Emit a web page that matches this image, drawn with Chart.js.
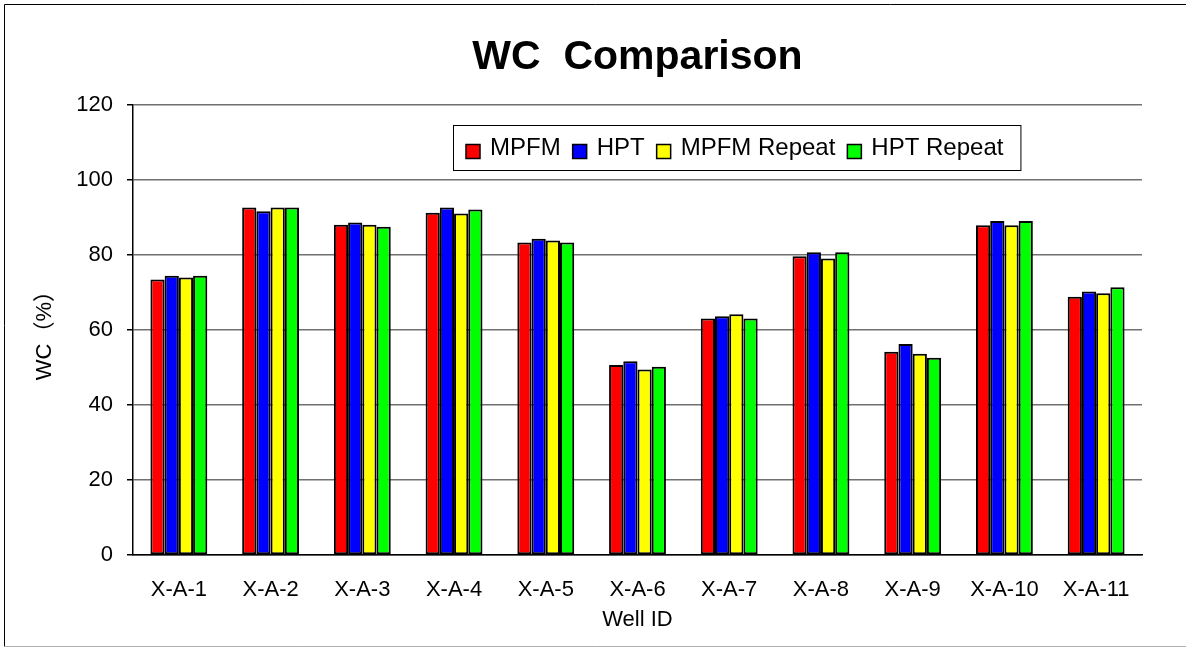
<!DOCTYPE html>
<html>
<head>
<meta charset="utf-8">
<script src="https://cdn.jsdelivr.net/npm/chart.js@4.4.1/dist/chart.umd.min.js"></script>
<style>
    html, body { margin: 0; padding: 0; background: #fff; }
    #grafica { display: block; }
</style>
</head>
<body>
<canvas id="grafica" width="1186" height="648"></canvas>
<script>
// Pozos y valores de WC (%)
const pozos = ['X-A-1', 'X-A-2', 'X-A-3', 'X-A-4', 'X-A-5', 'X-A-6', 'X-A-7', 'X-A-8', 'X-A-9', 'X-A-10', 'X-A-11'];
const mpfm = [73.5, 92.7, 88.1, 91.3, 83.4, 50.7, 63.1, 79.7, 54.2, 88.0, 68.9];
const hpt = [74.5, 91.7, 88.7, 92.7, 84.4, 51.7, 63.7, 80.8, 56.3, 89.1, 70.3];
const mpfmRepeat = [74.0, 92.7, 88.1, 91.1, 83.9, 49.5, 64.2, 79.1, 53.7, 88.0, 69.8];
const hptRepeat = [74.5, 92.7, 87.6, 92.2, 83.4, 50.2, 63.1, 80.8, 52.6, 89.1, 71.4];
const ticksY = [0, 20, 40, 60, 80, 100, 120];

const fuente = "'Liberation Sans', Arial, 'Noto Sans CJK SC', sans-serif";

// Fondo blanco y marco exterior
const marco = {
    id: 'marco',
    beforeDraw(chart) {
        const ctx = chart.ctx;
        ctx.save();
        ctx.fillStyle = '#fff';
        ctx.fillRect(0, 0, chart.width, chart.height);
        ctx.lineWidth = 1;
        ctx.strokeStyle = '#000';
        ctx.beginPath();
        ctx.moveTo(4.5, chart.height - 1.5);
        ctx.lineTo(4.5, 4.5);
        ctx.lineTo(chart.width, 4.5);
        ctx.stroke();
        ctx.strokeStyle = '#b0b0b0';
        ctx.beginPath();
        ctx.moveTo(4.5, chart.height - 1.5);
        ctx.lineTo(chart.width, chart.height - 1.5);
        ctx.stroke();
        ctx.restore();
    }
};

// Leyenda con recuadro dentro del area de la grafica
const leyenda = {
    id: 'leyenda',
    afterDraw(chart) {
        const ctx = chart.ctx;
        const x0 = 453, y0 = 125, alto = 45;
        const cuadro = 14, hueco = 10, sep = 12, margen = 13;
        ctx.save();
        ctx.font = '24px ' + fuente;
        let ancho = margen;
        chart.data.datasets.forEach((ds, i) => {
            ancho += cuadro + hueco + ctx.measureText(ds.label).width;
            if (i < chart.data.datasets.length - 1) ancho += sep;
        });
        ancho += 17;
        ctx.fillStyle = '#fff';
        ctx.fillRect(x0, y0, ancho, alto);
        ctx.strokeStyle = '#000';
        ctx.lineWidth = 1;
        ctx.strokeRect(x0 + 0.5, y0 + 0.5, ancho, alto);
        let x = x0 + margen;
        const yc = y0 + alto / 2 + 1;
        ctx.textBaseline = 'middle';
        chart.data.datasets.forEach(ds => {
            ctx.fillStyle = ds.backgroundColor;
            ctx.fillRect(x, yc - cuadro / 2 + 3, cuadro, cuadro);
            ctx.strokeStyle = '#000';
            ctx.lineWidth = 1.5;
            ctx.strokeRect(x, yc - cuadro / 2 + 3, cuadro, cuadro);
            x += cuadro + hueco;
            ctx.fillStyle = '#000';
            ctx.fillText(ds.label, x, yc);
            x += ctx.measureText(ds.label).width + sep;
        });
        ctx.restore();
    }
};

function serie(nombre, datos, color) {
    return {
        label: nombre,
        data: datos,
        backgroundColor: color,
        borderColor: '#000',
        borderWidth: 2,
        borderSkipped: false,
        categoryPercentage: 0.62,
        barPercentage: 1.0
    };
}

const ctx = document.getElementById('grafica').getContext('2d');
const grafica = new Chart(ctx, {
    type: 'bar',
    data: {
        labels: pozos,
        datasets: [
            serie('MPFM', mpfm, '#ff0000'),
            serie('HPT', hpt, '#0000ff'),
            serie('MPFM Repeat', mpfmRepeat, '#ffff00'),
            serie('HPT Repeat', hptRepeat, '#00ff00')
        ]
    },
    options: {
        responsive: false,
        animation: false,
        layout: {
            padding: { left: 0, right: 44, top: 0, bottom: 0 }
        },
        plugins: {
            legend: { display: false },
            tooltip: { enabled: false },
            title: {
                display: true,
                fullSize: false,
                text: 'WC  Comparison',
                color: '#000',
                font: { family: fuente, size: 41, weight: 'bold', lineHeight: 1.2 },
                padding: { top: 33, bottom: 23 }
            }
        },
        scales: {
            x: {
                grid: { display: false, drawTicks: false },
                border: { color: '#000', width: 1.5 },
                ticks: {
                    color: '#000',
                    font: { family: fuente, size: 22 },
                    padding: 22,
                    maxRotation: 0,
                    autoSkip: false
                },
                title: {
                    display: true,
                    text: 'Well ID',
                    color: '#000',
                    font: { family: fuente, size: 22 },
                    padding: { top: 0, bottom: 15 }
                },
                afterFit(scale) {
                    scale.height = 93;
                }
            },
            y: {
                min: 0,
                max: 120,
                afterBuildTicks(scale) {
                    scale.ticks = ticksY.map(v => ({ value: v }));
                },
                grid: {
                    color: '#707070',
                    lineWidth: 1.5,
                    drawTicks: true,
                    tickLength: 6,
                    tickColor: '#000'
                },
                border: { color: '#000', width: 1.5 },
                ticks: {
                    color: '#000',
                    font: { family: fuente, size: 22 },
                    padding: 14
                },
                title: {
                    display: true,
                    text: 'WC（%）',
                    color: '#000',
                    font: { family: fuente, size: 22 },
                    padding: { top: 32, bottom: 0 }
                },
                afterFit(scale) {
                    scale.width = 133;
                }
            }
        }
    },
    plugins: [marco, leyenda]
});
</script>
</body>
</html>
